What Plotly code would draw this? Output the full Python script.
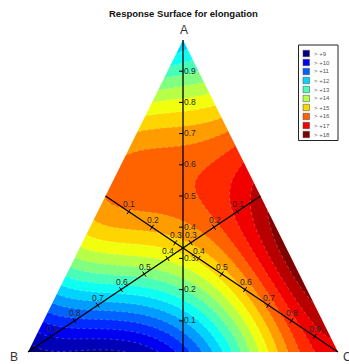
import numpy as np
import plotly.graph_objects as go

# ---------------- data ----------------
TITLE = "Response Surface for elongation"
VERTEX_NAMES = ["A", "B", "C"]
TICK_VALUES = [0.1, 0.2, 0.3, 0.4, 0.5, 0.6, 0.7, 0.8, 0.9]
TICK_LABELS = ["0.1", "0.2", "0.3", "0.4", "0.5", "0.6", "0.7", "0.8", "0.9"]
LEGEND_LEVELS = [9, 10, 11, 12, 13, 14, 15, 16, 17, 18]
LEGEND_LABELS = ["> +9", "> +10", "> +11", "> +12", "> +13",
                 "> +14", "> +15", "> +16", "> +17", "> +18"]
LEVEL_START, LEVEL_END, LEVEL_STEP = 9.0, 18.0, 0.5
CAXIS = [9.0, 18.0]

# response read at lattice points: A fraction per row, C fraction along the row
OBS_A = [0.0, 0.1, 0.2, 0.3, 0.4, 0.5, 0.6, 0.7, 0.8, 0.9, 1.0]
OBS_C = [0.0, 0.1, 0.2, 0.3, 0.4, 0.5, 0.6, 0.7, 0.8, 0.9, 1.0]
V_A00 = [9.2, 9.3, 9.5, 9.7, 10.0, 10.5, 11.9, 13.8, 15.4, 16.6, 17.3]
V_A01 = [10.8, 10.9, 11.0, 11.1, 11.4, 12.3, 14.2, 15.8, 16.8, 17.8]
V_A02 = [12.3, 12.3, 12.6, 13.0, 13.3, 14.3, 15.4, 16.7, 18.2]
V_A03 = [13.8, 14.2, 14.6, 14.9, 15.2, 16.2, 17.1, 18.3]
V_A04 = [15.3, 15.6, 15.8, 15.9, 16.3, 17.0, 18.2]
V_A05 = [16.1, 16.2, 16.2, 16.3, 16.8, 17.8]
V_A06 = [16.1, 16.2, 16.3, 16.7, 17.2]
V_A07 = [15.5, 15.7, 16.0, 16.2]
V_A08 = [14.5, 14.6, 14.8]
V_A09 = [13.2, 13.3]
V_A10 = [12.2]
OBS_ROWS = [V_A00, V_A01, V_A02, V_A03, V_A04, V_A05, V_A06, V_A07, V_A08, V_A09, V_A10]

# ---------------- layout geometry ----------------
W, H = 349, 364
XB, XC, YBASE, YAPEX = 28.0, 338.0, 352.0, 40.0
FONT = "Liberation Sans, Arial, Helvetica, sans-serif"


def tern(a, b, c):
    return c + 0.5 * a, a


def to_px(x, y):
    return XB + (XC - XB) * x, YBASE - (YBASE - YAPEX) * y


def from_px(px, py):
    return (px - XB) / (XC - XB), (YBASE - py) / (YBASE - YAPEX)


def paper(px, py):
    return px / W, 1 - py / H


def label(px, py, text, size, color, xanchor="center", bold=False):
    xp, yp = paper(px, py)
    return dict(x=xp, y=yp, xref="paper", yref="paper",
                text=("<b>%s</b>" % text) if bold else text,
                showarrow=False, xanchor=xanchor, yanchor="middle",
                font=dict(family=FONT, size=size, color=color))


# ---------------- fit a smooth mixture surface through the readings ----------------
pa, pc, pv = [], [], []
for a, row in zip(OBS_A, OBS_ROWS):
    for c, v in zip(OBS_C[:len(row)], row):
        pa.append(a); pc.append(c); pv.append(v)
pa, pc, pv = map(np.array, (pa, pc, pv))
DEG = 4
terms = [(i, j) for i in range(DEG + 1) for j in range(DEG + 1 - i)]


def design(a, c):
    return np.stack([a ** i * c ** j for i, j in terms], axis=-1)


coef, *_ = np.linalg.lstsq(design(pa, pc), pv, rcond=None)

gx = np.linspace(0, 1, 261)
gy = np.linspace(0, 1, 261)
GX, GY = np.meshgrid(gx, gy)
GA = GY
GC = GX - 0.5 * GY
Z = design(GA, GC) @ coef


def jet(t):
    t = min(max(t, 0.0), 1.0)
    r = min(max(1.5 - abs(4 * t - 3), 0), 1)
    g = min(max(1.5 - abs(4 * t - 2), 0), 1)
    b = min(max(1.5 - abs(4 * t - 1), 0), 1)
    return "rgb(%d,%d,%d)" % (round(255 * r), round(255 * g), round(255 * b))


nlev = int(round((LEVEL_END - LEVEL_START) / LEVEL_STEP)) + 1
nb = nlev + 1
colorscale = []
for k in range(nb):
    low = LEVEL_START + (k - 1) * LEVEL_STEP
    colorscale.append([k / (nb - 1), jet((low - CAXIS[0]) / (CAXIS[1] - CAXIS[0]))])

fig = go.Figure()
fig.add_trace(go.Contour(
    x=gx, y=gy, z=Z,
    contours=dict(start=LEVEL_START, end=LEVEL_END, size=LEVEL_STEP,
                  coloring="fill", showlines=True),
    line=dict(color="rgba(255,255,255,0.4)", width=0.6, dash="dot"),
    colorscale=colorscale, showscale=False, hoverinfo="skip"))

# masks outside the triangle
xA, yA = tern(1, 0, 0)
xB, yB = tern(0, 1, 0)
xC, yC = tern(0, 0, 1)
for poly in ([(xB, yB), (xA, yA), (xA, 1.3), (-0.3, 1.3), (-0.3, yB)],
             [(xC, yC), (xA, yA), (xA, 1.3), (1.3, 1.3), (1.3, yC)]):
    fig.add_trace(go.Scatter(x=[p[0] for p in poly] + [poly[0][0]],
                             y=[p[1] for p in poly] + [poly[0][1]],
                             fill="toself", fillcolor="white", mode="lines",
                             line=dict(width=0, color="white"), hoverinfo="skip",
                             showlegend=False))

# medians (axes)
axes_def = [
    (lambda t: (t, (1 - t) / 2, (1 - t) / 2)),
    (lambda t: ((1 - t) / 2, t, (1 - t) / 2)),
    (lambda t: ((1 - t) / 2, (1 - t) / 2, t)),
]
lx, ly = [], []
tx, ty = [], []
annotations = []
for ai, f in enumerate(axes_def):
    x0, y0 = tern(*f(0.0))
    x1, y1 = tern(*f(1.0))
    lx += [x0, x1, None]
    ly += [y0, y1, None]
    p0 = np.array(to_px(x0, y0)); p1 = np.array(to_px(x1, y1))
    d = (p1 - p0) / np.linalg.norm(p1 - p0)
    nrm = np.array([-d[1], d[0]])
    for t, lab in zip(TICK_VALUES, TICK_LABELS):
        px, py = to_px(*tern(*f(t)))
        if ai == 0:
            e0 = from_px(px - 4, py); e1 = from_px(px, py)
            annotations.append(label(px - 1.5, py - 0.5, lab, 8.5, "#2a2a2a", xanchor="left"))
        else:
            q0 = np.array([px, py]) - 3 * nrm; q1 = np.array([px, py]) + 3 * nrm
            e0 = from_px(*q0); e1 = from_px(*q1)
            annotations.append(label(px + 0.5, py - 7.5, lab, 8.5, "#2a2a2a"))
        tx += [e0[0], e1[0], None]
        ty += [e0[1], e1[1], None]

fig.add_trace(go.Scatter(x=lx, y=ly, mode="lines", line=dict(color="black", width=1.3),
                         hoverinfo="skip", showlegend=False))
fig.add_trace(go.Scatter(x=tx, y=ty, mode="lines", line=dict(color="black", width=1),
                         hoverinfo="skip", showlegend=False))

# title and vertex names
annotations.append(label(184, 14, TITLE, 9.5, "#111", bold=True))
for name, (pxv, pyv) in zip(VERTEX_NAMES, [(184, 30), (14, 357), (347, 357)]):
    annotations.append(label(pxv, pyv, name, 12, "#333"))

# legend box
shapes = []
x0p, y0p = paper(298.5, 45)
x1p, y1p = paper(338, 140.5)
shapes.append(dict(type="rect", xref="paper", yref="paper", x0=x0p, y0=y0p, x1=x1p, y1=y1p,
                   line=dict(color="#222", width=1), fillcolor="white", layer="above"))
for i, (lev, lab) in enumerate(zip(LEGEND_LEVELS, LEGEND_LABELS)):
    cy = 53.5 + 9.0 * i
    sx0, sy0 = paper(303, cy - 3.2)
    sx1, sy1 = paper(309.5, cy + 3.2)
    shapes.append(dict(type="rect", xref="paper", yref="paper", x0=sx0, y0=sy0, x1=sx1, y1=sy1,
                       line=dict(color="#444", width=0.5),
                       fillcolor=jet((lev - CAXIS[0]) / (CAXIS[1] - CAXIS[0])), layer="above"))
    annotations.append(label(311.5, cy, lab, 6, "#555", xanchor="left"))

xr0 = from_px(0, 0)[0]; xr1 = from_px(W, 0)[0]
yr0 = from_px(0, H)[1]; yr1 = from_px(0, 0)[1]
fig.update_layout(
    width=W, height=H, margin=dict(l=0, r=0, t=0, b=0),
    paper_bgcolor="white", plot_bgcolor="white", showlegend=False,
    xaxis=dict(range=[xr0, xr1], visible=False, fixedrange=True),
    yaxis=dict(range=[yr0, yr1], visible=False, fixedrange=True),
    annotations=annotations, shapes=shapes)

fig.write_html("out.html")
